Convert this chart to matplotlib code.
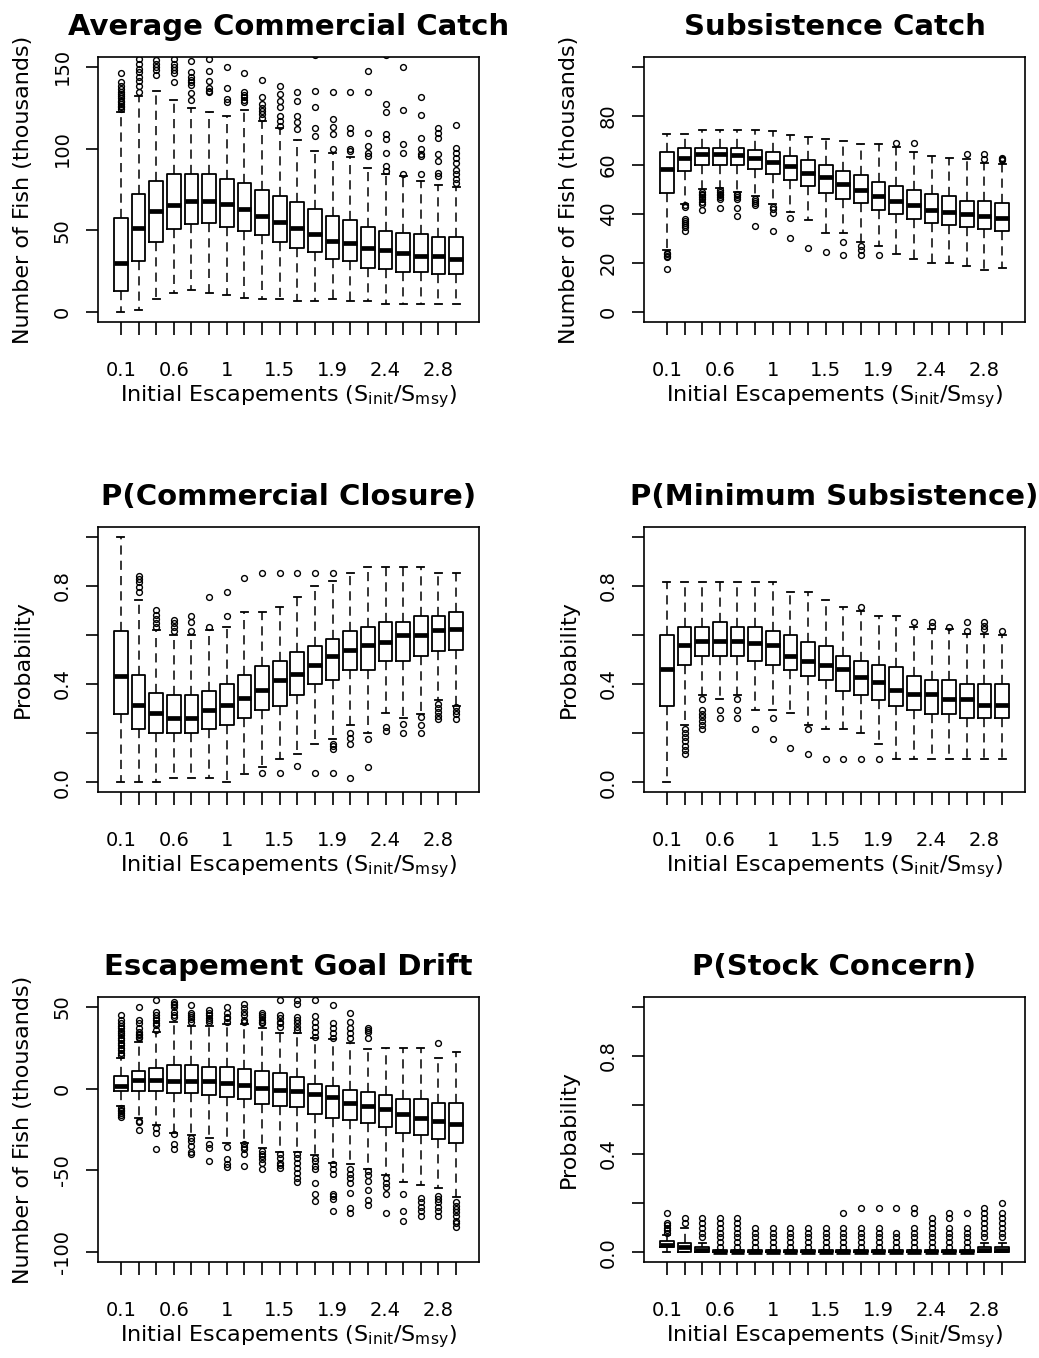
import matplotlib
matplotlib.use("Agg")
import matplotlib.pyplot as plt

plt.rcParams['font.family'] = ['DejaVu Sans']
plt.rcParams['mathtext.fontset'] = 'dejavusans'

# ---------------- categories ----------------
x_labels = ['0.1', '0.3', '0.4', '0.6', '0.7', '0.9', '1', '1.2', '1.3', '1.5',
            '1.6', '1.8', '1.9', '2.1', '2.2', '2.4', '2.5', '2.7', '2.8', '3']
x_label_text = r'Initial Escapements (S$_{\mathrm{init}}$/S$_{\mathrm{msy}}$)'

# ---------------- Average Commercial Catch ----------------
cc_q1 = [13.0, 31.4, 43.1, 50.9, 53.8, 54.8, 52.3, 49.7, 47.2, 43.1,
         39.0, 36.5, 32.8, 31.4, 27.3, 26.1, 24.6, 24.6, 23.2, 23.2]
cc_med = [30.2, 51.3, 61.6, 65.7, 68.1, 68.1, 66.1, 63.0, 59.1, 55.0,
          51.3, 47.6, 43.5, 42.1, 39.4, 38.0, 35.9, 34.3, 34.3, 32.8]
cc_q3 = [57.5, 72.2, 80.0, 84.2, 84.2, 84.2, 81.5, 79.0, 74.9, 71.2,
         67.1, 63.0, 59.1, 56.4, 52.3, 49.9, 48.6, 47.6, 46.2, 46.2]
cc_lo = [0.0, 1.4, 8.2, 11.7, 13.3, 11.7, 10.3, 8.8, 8.2, 8.2,
         6.8, 6.8, 8.2, 6.8, 6.8, 5.1, 5.1, 5.1, 5.1, 5.1]
cc_hi = [122.5, 132.0, 135.5, 129.9, 124.8, 122.5, 119.7, 123.8, 117.0, 112.9,
         105.0, 98.5, 97.1, 95.0, 88.3, 84.2, 83.1, 80.0, 77.6, 76.6]
cc_out = [
    [124, 125.2, 126, 127.3, 128.5, 129.3, 131, 132.4, 133.5, 134.4, 136.5, 138.5, 140.6, 146.1],
    [134.4, 138, 141.6, 143.7, 146.8, 148.8, 151.9, 155],
    [145, 147.8, 149.8, 151.9, 153.9],
    [140.6, 146, 147.8, 149.8, 151.9, 154.6],
    [129.7, 133.8, 139, 140.6, 142, 143.7, 146.8, 153.5],
    [134.5, 135.5, 136.9, 141.6, 147.2, 155],
    [128.3, 130.3, 136.9, 149.8],
    [128.3, 130, 131.4, 133, 134.4, 146.1],
    [119, 121, 123, 125, 127.3, 131.4, 142],
    [114, 117, 120, 125.2, 129, 133.4, 138.5],
    [111.9, 116, 120, 129.3, 134.4],
    [107.8, 112.3, 125.2, 135.5, 157],
    [99.5, 108.8, 113.5, 118, 134.4],
    [98.5, 99.5, 109.8, 112.9, 134.4],
    [95.4, 97.5, 101.6, 109.8, 134.4, 147.2],
    [86.2, 89.3, 97.5, 105.7, 108.8, 122.1, 127.3, 157],
    [84.2, 97.5, 102.6, 123.6, 149.8],
    [84.2, 95.4, 97, 99.5, 106.3, 120.7, 131.4],
    [83.1, 85.2, 92.4, 96.5, 106.7, 109.8, 112.3],
    [79, 81.5, 84.2, 87.2, 91.3, 94.4, 97.5, 100.6, 114.3],
]

# ---------------- Subsistence Catch ----------------
sc_q1 = [48.6, 57.4, 59.9, 59.9, 59.9, 58.2, 56.5, 54.0, 51.4, 48.6,
         46.0, 44.5, 41.8, 39.9, 38.1, 36.5, 35.6, 34.7, 33.7, 32.9]
sc_med = [58.5, 62.9, 64.6, 64.6, 63.9, 63.0, 61.2, 59.5, 56.7, 55.1,
          52.4, 49.7, 47.2, 45.3, 43.5, 41.8, 40.8, 39.9, 39.0, 38.4]
sc_q3 = [65.3, 67.1, 66.9, 66.9, 66.9, 66.3, 65.3, 63.5, 61.9, 60.1,
         57.4, 55.8, 53.1, 51.4, 49.7, 48.0, 47.2, 45.3, 45.3, 44.5]
sc_lo = [25.2, 44.2, 50.3, 50.7, 49.0, 47.2, 43.9, 40.8, 37.4, 32.2,
         32.2, 28.8, 26.9, 23.8, 21.8, 20.0, 20.0, 19.0, 17.3, 18.1]
sc_hi = [72.8, 72.5, 74.1, 74.1, 74.1, 74.1, 73.9, 72.1, 71.4, 70.5,
         69.8, 68.7, 68.7, 67.3, 65.3, 63.5, 62.9, 62.3, 60.8, 60.3]
sc_out = [
    [17.4, 22.4, 23.0, 23.8, 24.3],
    [33.1, 34.7, 35.5, 36.3, 37.2, 38.1, 42.9, 43.5],
    [41.8, 44.2, 45.0, 46.0, 46.9, 47.6, 48.3, 49.0],
    [42.6, 46.3, 47.0, 47.6, 48.3, 49.0, 49.7],
    [39.0, 42.6, 46.3, 47.0, 47.6, 48.3],
    [35.0, 43.5, 44.5, 45.5, 46.3],
    [33.1, 40.5, 42.0, 42.9],
    [30.3, 38.4],
    [26.1],
    [24.5],
    [23.4, 28.8],
    [23.4, 25.2, 26.9],
    [23.4],
    [69.0],
    [69.0],
    [],
    [],
    [64.6],
    [62.3, 64.6],
    [62.2, 62.6, 63.0],
]

# ---------------- P(Commercial Closure) ----------------
pc_q1 = [0.278, 0.217, 0.200, 0.200, 0.200, 0.217, 0.235, 0.260, 0.296, 0.312,
         0.357, 0.400, 0.416, 0.458, 0.458, 0.495, 0.495, 0.513, 0.536, 0.538]
pc_med = [0.434, 0.315, 0.281, 0.262, 0.262, 0.296, 0.315, 0.342, 0.377, 0.418,
          0.441, 0.479, 0.515, 0.538, 0.559, 0.572, 0.601, 0.601, 0.620, 0.626]
pc_q3 = [0.617, 0.437, 0.365, 0.357, 0.357, 0.373, 0.400, 0.437, 0.472, 0.495,
         0.529, 0.556, 0.583, 0.617, 0.633, 0.651, 0.651, 0.678, 0.678, 0.694]
pc_lo = [0.0, 0.0, 0.0, 0.018, 0.018, 0.018, 0.0, 0.034, 0.061, 0.095,
         0.113, 0.156, 0.176, 0.235, 0.200, 0.281, 0.260, 0.278, 0.336, 0.312]
pc_hi = [0.999, 0.742, 0.620, 0.601, 0.601, 0.620, 0.633, 0.694, 0.694, 0.712,
         0.755, 0.800, 0.820, 0.854, 0.877, 0.877, 0.877, 0.877, 0.854, 0.854]
pc_out = [
    [],
    [0.777, 0.796, 0.814, 0.827, 0.841],
    [0.631, 0.648, 0.664, 0.681, 0.701],
    [0.617, 0.633, 0.647, 0.660],
    [0.617, 0.651, 0.678],
    [0.633, 0.755],
    [0.678, 0.776],
    [0.834],
    [0.037, 0.852],
    [0.037, 0.852],
    [0.064, 0.852],
    [0.037, 0.852],
    [0.037, 0.136, 0.147, 0.156, 0.852],
    [0.018, 0.156, 0.179, 0.200],
    [0.061, 0.174],
    [0.210, 0.224],
    [0.200, 0.237],
    [0.200, 0.235, 0.264],
    [0.258, 0.271, 0.287, 0.302, 0.319],
    [0.258, 0.278, 0.292, 0.305],
]

# ---------------- P(Minimum Subsistence) ----------------
ms_q1 = [0.312, 0.477, 0.513, 0.513, 0.513, 0.495, 0.477, 0.458, 0.434, 0.416,
         0.373, 0.357, 0.336, 0.312, 0.296, 0.278, 0.278, 0.260, 0.260, 0.260]
ms_med = [0.461, 0.559, 0.576, 0.576, 0.576, 0.567, 0.559, 0.513, 0.495, 0.477,
          0.461, 0.427, 0.407, 0.377, 0.359, 0.359, 0.339, 0.339, 0.315, 0.315]
ms_q3 = [0.599, 0.633, 0.633, 0.651, 0.633, 0.633, 0.617, 0.599, 0.572, 0.556,
         0.513, 0.495, 0.477, 0.471, 0.434, 0.416, 0.416, 0.400, 0.400, 0.400]
ms_lo = [0.0, 0.235, 0.357, 0.339, 0.357, 0.296, 0.296, 0.281, 0.235, 0.217,
         0.217, 0.200, 0.156, 0.095, 0.095, 0.095, 0.095, 0.095, 0.095, 0.095]
ms_hi = [0.816, 0.816, 0.816, 0.816, 0.816, 0.816, 0.816, 0.776, 0.776, 0.742,
         0.712, 0.696, 0.678, 0.678, 0.633, 0.624, 0.624, 0.603, 0.603, 0.599]
ms_out = [
    [],
    [0.113, 0.132, 0.149, 0.167, 0.183, 0.200, 0.217],
    [0.217, 0.233, 0.248, 0.264, 0.278, 0.296, 0.339],
    [0.260, 0.296],
    [0.260, 0.296, 0.339],
    [0.217],
    [0.174, 0.260],
    [0.140],
    [0.113, 0.217],
    [0.095],
    [0.095],
    [0.095, 0.712],
    [0.095],
    [],
    [0.651],
    [0.637, 0.651],
    [0.633],
    [0.617, 0.651],
    [0.624, 0.637, 0.651],
    [0.617],
]

# ---------------- Escapement Goal Drift ----------------
gd_q1 = [-1.3, -1.3, -1.3, -2.7, -2.7, -3.7, -5.1, -6.2, -9.2, -10.4,
         -11.4, -15.5, -17.9, -19.3, -20.9, -23.4, -27.4, -28.4, -31.1, -33.5]
gd_med = [1.3, 5.0, 5.0, 4.4, 4.4, 4.4, 3.4, 2.4, 0.3, -0.7,
          -1.7, -3.1, -5.1, -8.8, -10.8, -12.4, -15.3, -17.9, -19.9, -21.6]
gd_q3 = [7.8, 10.9, 12.9, 14.5, 14.5, 13.1, 13.1, 12.1, 10.9, 9.5,
         6.8, 3.0, 1.8, -0.7, -2.1, -3.7, -6.2, -6.2, -8.8, -8.8]
gd_lo = [-10.8, -17.9, -22.0, -27.0, -28.4, -30.5, -33.5, -33.5, -36.2, -38.8,
         -38.8, -40.8, -45.3, -46.3, -48.9, -52.8, -56.8, -59.1, -60.9, -66.2]
gd_hi = [19.0, 28.7, 34.8, 40.9, 38.4, 38.2, 39.3, 39.3, 36.8, 34.2,
         34.2, 30.7, 30.1, 27.7, 24.0, 24.7, 24.7, 24.7, 18.6, 22.2]
gd_out = [
    [20.5, 22, 23.5, 25, 26.5, 28, 29.5, 31, 32.5, 34, 35.5, 37, 38.5, 40, 42, 45,
     -11.8, -12.8, -13.9, -14.9, -15.9, -17.5],
    [50, 41.9, 39.9, 36.8, 34.8, 32.8, 30.7, 31.5, 33.5, -19.9, -20.5, -25.6],
    [54, 47, 44.9, 41.9, 38.9, 35.8, 40, 43, -24, -27, -37.2],
    [53, 50, 47, 43.9, 45, 52, 51, -28, -34.1, -37.2],
    [51, 46, 43.9, 42.5, 40.9, 44.9, -30.1, -32.1, -35.1, -40.2, -39],
    [48, 46, 45, 43.3, 40.9, 41.8, -34.1, -36.2, -44.3],
    [50, 46, 44, 42.9, 40.9, -35.7, -43.2, -45.9, -47.9],
    [52, 49, 47, 44.9, 41.9, 40.5, -34.1, -35.5, -37.2, -40.2, -47.3],
    [46, 43.9, 41.9, 39.9, 40.8, 45, -38.2, -40.2, -41.2, -43.2, -45.3, -49.3],
    [54, 44.9, 42.9, 39.9, 37.8, 41, -40.2, -42.2, -45.3, -48.3, -47],
    [54, 52, 43.9, 41.9, 39.9, 37.8, 35.8, -40.2, -42.2, -45.3, -48.3, -51.4, -54.4, -56.8],
    [54, 44.3, 40.9, 37.8, 34.8, 31.8, -42.2, -44.3, -47.3, -49.3, -58, -64.5, -68.6],
    [51, 39.9, 36.8, 33.8, 30.7, -46.3, -49.3, -52, -64.5, -65.5, -67.6, -74.7],
    [46, 40.9, 36.8, 33.8, 30.7, -49.3, -52.4, -54.8, -57.4, -64.1, -73.2, -76.3],
    [36.8, 35.8, 34.8, 30.7, -50.3, -52.8, -56.4, -62.1, -68.2, -71],
    [-54.4, -57.4, -60.1, -64.5, -76.3],
    [-64.5, -74.7, -81.2],
    [-66.6, -69.6, -72.2, -74.7, -77.7],
    [27.7, -65.6, -67.6, -69.6, -72.2, -74.7, -77.7],
    [-69.6, -71.6, -73.7, -75.7, -77.7, -80.7, -82, -84.8],
]

# ---------------- P(Stock Concern) ----------------
st_q1 = [0.020, 0.0, 0.0, 0.0, 0.0, 0.0, 0.0, 0.0, 0.0, 0.0,
         0.0, 0.0, 0.0, 0.0, 0.0, 0.0, 0.0, 0.0, 0.0, 0.0]
st_med = [0.031, 0.020, 0.007, 0.0, 0.0, 0.0, 0.0, 0.0, 0.0, 0.0,
          0.0, 0.0, 0.0, 0.0, 0.0, 0.0, 0.0, 0.0, 0.010, 0.010]
st_q3 = [0.047, 0.038, 0.020, 0.010, 0.010, 0.008, 0.008, 0.008, 0.008, 0.008,
         0.008, 0.008, 0.008, 0.008, 0.008, 0.008, 0.008, 0.008, 0.020, 0.020]
st_lo = [0.0] * 20
st_hi = [0.071, 0.099, 0.038, 0.010, 0.010, 0.008, 0.008, 0.008, 0.008, 0.008,
         0.008, 0.008, 0.008, 0.008, 0.008, 0.008, 0.008, 0.008, 0.038, 0.038]
st_out = [
    [0.08, 0.09, 0.10, 0.11, 0.12, 0.16],
    [0.12, 0.14],
    [0.06, 0.08, 0.10, 0.12, 0.14],
    [0.02, 0.04, 0.06, 0.08, 0.10, 0.12, 0.14],
    [0.02, 0.04, 0.06, 0.08, 0.10, 0.12, 0.14],
    [0.02, 0.04, 0.06, 0.08, 0.10],
    [0.02, 0.04, 0.06, 0.08, 0.10],
    [0.02, 0.04, 0.06, 0.08, 0.10],
    [0.02, 0.04, 0.06, 0.08, 0.10],
    [0.02, 0.04, 0.06, 0.08, 0.10],
    [0.02, 0.04, 0.06, 0.08, 0.10, 0.16],
    [0.02, 0.04, 0.06, 0.08, 0.10, 0.18],
    [0.02, 0.04, 0.06, 0.08, 0.10, 0.18],
    [0.02, 0.04, 0.06, 0.08, 0.18],
    [0.02, 0.04, 0.06, 0.08, 0.10, 0.16, 0.18],
    [0.02, 0.04, 0.06, 0.08, 0.10, 0.12, 0.14],
    [0.02, 0.04, 0.06, 0.08, 0.10, 0.14, 0.16],
    [0.02, 0.04, 0.06, 0.08, 0.10, 0.16],
    [0.06, 0.08, 0.10, 0.12, 0.14, 0.16, 0.18],
    [0.06, 0.08, 0.10, 0.12, 0.14, 0.16, 0.20],
]

prob_ticks = [0.0, 0.2, 0.4, 0.6, 0.8, 1.0]
prob_tlabels = ['0.0', '', '0.4', '', '0.8', '']

panels = [
    dict(title='Average Commercial Catch', ylabel='Number of Fish (thousands)',
         data=(cc_q1, cc_med, cc_q3, cc_lo, cc_hi, cc_out), ylim=(0, 150),
         yticks=[0, 50, 100, 150], ytl=['0', '50', '100', '150']),
    dict(title='Subsistence Catch', ylabel='Number of Fish (thousands)',
         data=(sc_q1, sc_med, sc_q3, sc_lo, sc_hi, sc_out), ylim=(0, 100),
         yticks=[0, 20, 40, 60, 80, 100], ytl=['0', '20', '40', '60', '80', '']),
    dict(title='P(Commercial Closure)', ylabel='Probability',
         data=(pc_q1, pc_med, pc_q3, pc_lo, pc_hi, pc_out), ylim=(0, 1),
         yticks=prob_ticks, ytl=prob_tlabels),
    dict(title='P(Minimum Subsistence)', ylabel='Probability',
         data=(ms_q1, ms_med, ms_q3, ms_lo, ms_hi, ms_out), ylim=(0, 1),
         yticks=prob_ticks, ytl=prob_tlabels),
    dict(title='Escapement Goal Drift', ylabel='Number of Fish (thousands)',
         data=(gd_q1, gd_med, gd_q3, gd_lo, gd_hi, gd_out), ylim=(-100, 50),
         yticks=[-100, -50, 0, 50], ytl=['-100', '-50', '0', '50']),
    dict(title='P(Stock Concern)', ylabel='Probability',
         data=(st_q1, st_med, st_q3, st_lo, st_hi, st_out), ylim=(0, 1),
         yticks=prob_ticks, ytl=prob_tlabels),
]

W, H = 1039, 1358
fig = plt.figure(figsize=(W / 100, H / 100), dpi=100)

col_left = [98, 644]
row_top = [57, 527, 997]
aw, ah = 381, 265

n = len(x_labels)
positions = list(range(1, n + 1))
shown_labels = [lab if i % 3 == 0 else '' for i, lab in enumerate(x_labels)]

for k, p in enumerate(panels):
    r, c = divmod(k, 2)
    left = col_left[c] / W
    bottom = (H - row_top[r] - ah) / H
    ax = fig.add_axes([left, bottom, aw / W, ah / H])

    q1, med, q3, lo, hi, out = p['data']
    stats = []
    for i in range(n):
        stats.append(dict(q1=q1[i], med=med[i], q3=q3[i], whislo=lo[i],
                          whishi=hi[i], fliers=out[i]))
    ax.bxp(stats, positions=positions, widths=0.78, capwidths=0.4,
           showfliers=True,
           boxprops=dict(color='black', linewidth=1.3),
           medianprops=dict(color='black', linewidth=3.4, solid_capstyle='butt'),
           whiskerprops=dict(color='black', linewidth=1.1, linestyle=(0, (6, 4))),
           capprops=dict(color='black', linewidth=1.3),
           flierprops=dict(marker='o', markerfacecolor='none', markeredgecolor='black',
                           markersize=4.2, markeredgewidth=1.0, linestyle='none'))

    y0, y1 = p['ylim']
    pad = (y1 - y0) * 0.04
    ax.set_ylim(y0 - pad, y1 + pad)
    ax.set_xlim(-0.3, 21.3)

    ax.set_xticks(positions)
    ax.set_xticklabels(shown_labels, fontsize=14)
    ax.set_yticks(p['yticks'])
    ax.set_yticklabels(p['ytl'], fontsize=14, rotation=90, va='center')

    ax.tick_params(axis='x', direction='out', length=9, width=1.2, pad=19)
    ax.tick_params(axis='y', direction='out', length=9, width=1.2, pad=10)
    for s in ax.spines.values():
        s.set_linewidth(1.2)

    ax.set_title(p['title'], fontsize=21, fontweight='bold', pad=16)
    ax.set_xlabel(x_label_text, fontsize=16)
    ax.xaxis.label.set_va('center')
    ax.xaxis.set_label_coords(0.5, -(397 - 322) / ah)
    ax.set_ylabel(p['ylabel'], fontsize=16)
    ax.yaxis.label.set_va('center')
    ax.yaxis.set_label_coords(-(98 - 23) / aw, 0.5)

fig.savefig('out.png', dpi=100, facecolor='white')
